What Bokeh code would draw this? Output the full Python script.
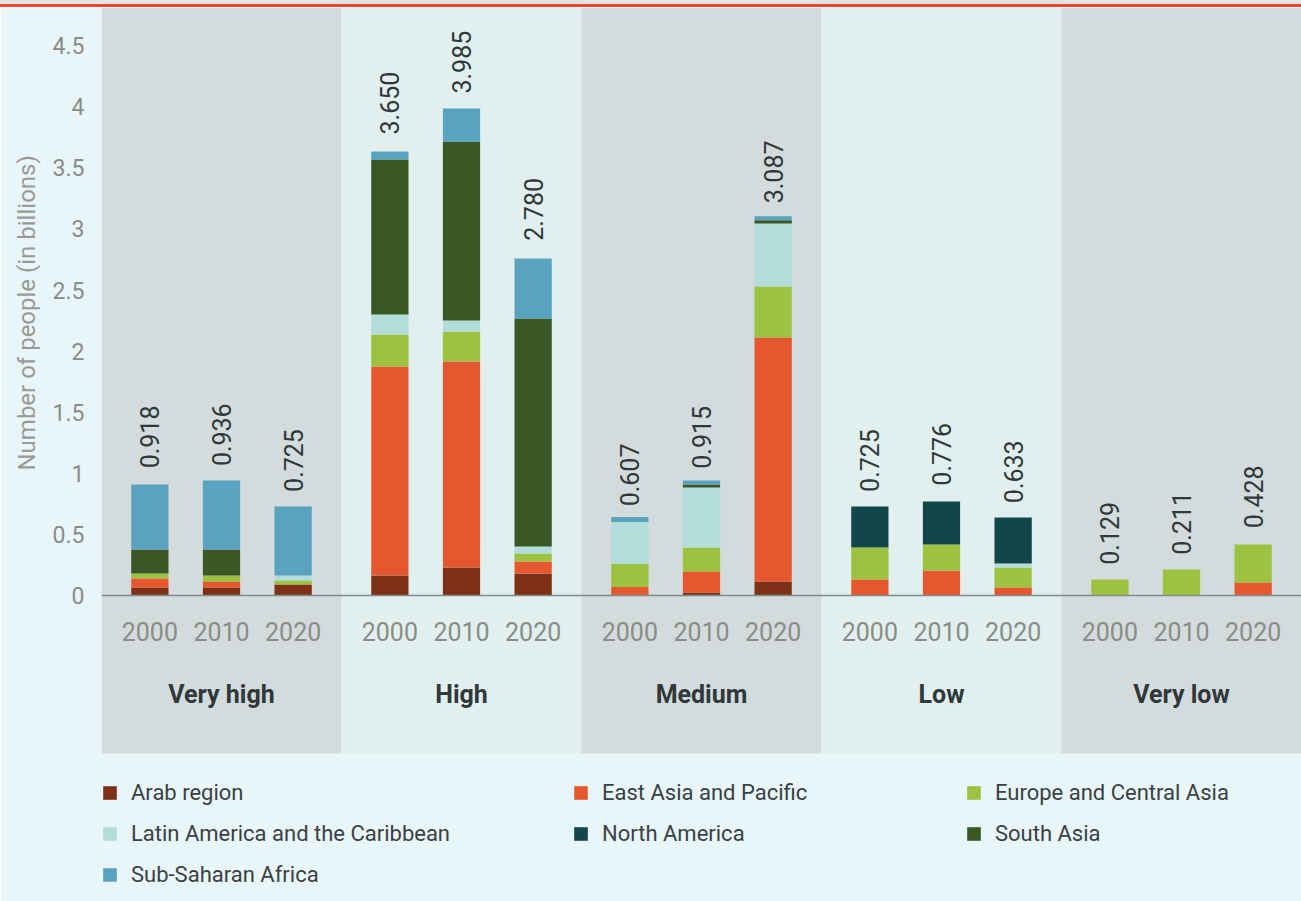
import math
from bokeh.plotting import figure
from bokeh.layouts import column
from bokeh.models import (ColumnDataSource, FactorRange, Range1d, FixedTicker, Span,
                          Legend, LegendItem, Title, Div)
from bokeh.core.properties import value
from bokeh.embed import file_html
from bokeh.resources import INLINE

# ---------------- data ----------------
groups = ["Very high", "High", "Medium", "Low", "Very low"]
years = ["2000", "2010", "2020"]

regions = ["Arab region", "East Asia and Pacific", "Europe and Central Asia",
           "Latin America and the Caribbean", "North America", "South Asia",
           "Sub-Saharan Africa"]

# values in billions, ordered group by group, year by year
arab = [0.065, 0.065, 0.090, 0.164, 0.229, 0.180, 0.005, 0.025, 0.115, 0, 0, 0, 0, 0, 0]
east_asia = [0.074, 0.049, 0.0, 1.710, 1.686, 0.098, 0.065, 0.172, 1.997, 0.131, 0.205, 0.065, 0, 0, 0.106]
europe = [0.041, 0.049, 0.033, 0.262, 0.245, 0.065, 0.188, 0.196, 0.417, 0.262, 0.213, 0.164, 0.131, 0.213, 0.311]
latin_america = [0, 0, 0.041, 0.164, 0.090, 0.057, 0.344, 0.491, 0.516, 0, 0, 0.033, 0, 0, 0]
north_america = [0, 0, 0, 0, 0, 0, 0, 0, 0, 0.336, 0.352, 0.376, 0, 0, 0]
south_asia = [0.196, 0.213, 0, 1.268, 1.465, 1.866, 0, 0.025, 0.025, 0, 0, 0, 0, 0, 0]
sub_saharan = [0.532, 0.565, 0.565, 0.065, 0.270, 0.491, 0.041, 0.033, 0.033, 0, 0, 0, 0, 0, 0]

totals = [0.918, 0.936, 0.725, 3.650, 3.985, 2.780, 0.607, 0.915, 3.087,
          0.725, 0.776, 0.633, 0.129, 0.211, 0.428]

y_ticks = [0, 0.5, 1, 1.5, 2, 2.5, 3, 3.5, 4, 4.5]
y_tick_labels = ["0", "0.5", "1", "1.5", "2", "2.5", "3", "3.5", "4", "4.5"]
y_title = "Number of people (in billions)"

# ---------------- styles ----------------
colors = ["#7F3118", "#E5582F", "#9DC242", "#B2DDDA", "#12464A", "#3A5726", "#59A3C1"]
band_colors = ["#D3DBDC", "#E1F0EF", "#D3DBDC", "#E1F0EF", "#D3DBDC"]
BG = "#E8F6FA"
FONT = "Roboto"
GRAY = "#8C8C87"
DARK = "#30383A"

W = 1301
STRIP_H = 7
H = 901 - STRIP_H
PX = 122.2                      # pixels per billion
BASE = 595 - STRIP_H            # baseline position inside main figure
Y_TOP = BASE / PX
Y_BOT = -(H - BASE) / PX
BAND_BOTTOM = -158 / PX
GROUP_PAD = 0.35

# ---------------- top rule strip ----------------
strip = Div(text="", width=W, height=STRIP_H,
            styles={"background": "linear-gradient(to bottom, #E4E4E4 0px, #E4E4E4 4px, "
                                  "#E8472A 4px, #E8472A 7px)",
                    "margin": "0", "padding": "0"})

# ---------------- main figure ----------------
factors = [(g, y) for g in groups for y in years]

p = figure(width=W, height=H,
           x_range=FactorRange(factors=factors, factor_padding=0, group_padding=GROUP_PAD,
                               range_padding=GROUP_PAD / 2, range_padding_units="absolute"),
           y_range=Range1d(Y_BOT, Y_TOP),
           output_backend="svg", toolbar_location=None, x_axis_location=None,
           min_border_left=101, min_border_right=0, min_border_top=0, min_border_bottom=0,
           background_fill_color=BG, border_fill_color=BG, outline_line_color=None)
p.grid.visible = False

# background bands
band_src = ColumnDataSource(dict(x=groups, fill=band_colors))
p.vbar(x="x", top=Y_TOP, bottom=BAND_BOTTOM, width=3 + GROUP_PAD, fill_color="fill",
       line_color=None, source=band_src)

# stacked bars
series = [arab, east_asia, europe, latin_america, north_america, south_asia, sub_saharan]
data = dict(x=factors)
for name, vals in zip(regions, series):
    data[name] = vals
src = ColumnDataSource(data)
rs = p.vbar_stack(regions, x="x", width=0.52, fill_color=colors, line_color=None, source=src)

# baseline
p.add_layout(Span(location=0, dimension="width", line_color="#7F8B8C", line_width=1.5))

# total labels
tot_src = ColumnDataSource(dict(x=factors, y=totals, t=[f"{t:.3f}" for t in totals]))
p.text(x="x", y="y", text="t", source=tot_src, angle=math.pi / 2, text_align="left",
       text_baseline="middle", y_offset=-15, text_font=value(FONT), text_font_size="25px",
       text_color=DARK)

# year labels and group labels
p.text(x=factors, y=-35.5 / PX, text=[y for _, y in factors], text_align="center",
       text_baseline="middle", text_font=value(FONT), text_font_size="25px", text_color=GRAY)
p.text(x=groups, y=-99 / PX, text=groups, text_align="center", text_baseline="middle",
       text_font=value(FONT), text_font_size="25px", text_font_style="bold", text_color=DARK)

# y axis
ax = p.yaxis[0]
ax.ticker = FixedTicker(ticks=y_ticks)
ax.bounds = (0, 4.5)
ax.major_label_overrides = dict(zip(y_ticks, y_tick_labels))
ax.axis_line_color = None
ax.major_tick_line_color = None
ax.minor_tick_line_color = None
ax.major_tick_out = 0
ax.major_tick_in = 0
ax.major_label_standoff = 17
ax.major_label_text_font = FONT
ax.major_label_text_font_size = "23px"
ax.major_label_text_color = GRAY

# y-axis title, starting at the reference's position (measured from the panel bottom)
ytitle = Title(text=y_title, align="left", offset=H - (470 - STRIP_H),
               text_font=FONT, text_font_size="24px", text_font_style="normal",
               text_color="#9A9A93", standoff=18)
p.add_layout(ytitle, "left")

# legends (three columns)
columns = [[0, 3, 6], [1, 4], [2, 5]]
col_x = [0, 471, 864]
for idxs, lx in zip(columns, col_x):
    items = [LegendItem(label=regions[i], renderers=[rs[i]]) for i in idxs]
    n = len(idxs)
    height = n * 27 + (n - 1) * 14
    ly = 901 - 778.5 - height
    leg = Legend(items=items, location=(lx, ly), orientation="vertical",
                 glyph_width=17, glyph_height=17, label_height=27, spacing=14,
                 label_standoff=13, padding=0, margin=0,
                 label_text_font=FONT, label_text_font_size="22px", label_text_color="#3B4143",
                 border_line_color=None, background_fill_alpha=0)
    p.add_layout(leg, "center")

layout = column(strip, p, spacing=0)
open("out.html", "w").write(file_html(layout, INLINE))
